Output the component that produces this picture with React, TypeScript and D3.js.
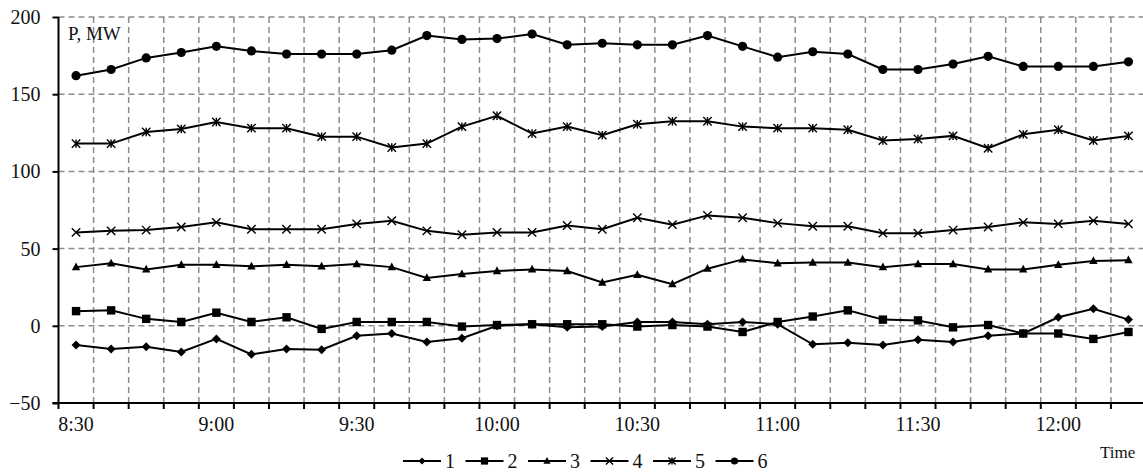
import { useRef, useEffect } from 'react';
import * as d3 from 'd3';

// 31 samples, every 7.5 minutes from 8:30 to 12:15
const times = [
  '8:30', '8:37:30', '8:45', '8:52:30', '9:00', '9:07:30', '9:15', '9:22:30',
  '9:30', '9:37:30', '9:45', '9:52:30', '10:00', '10:07:30', '10:15', '10:22:30',
  '10:30', '10:37:30', '10:45', '10:52:30', '11:00', '11:07:30', '11:15', '11:22:30',
  '11:30', '11:37:30', '11:45', '11:52:30', '12:00', '12:07:30', '12:15',
];
const tickLabels = ['8:30', '9:00', '9:30', '10:00', '10:30', '11:00', '11:30', '12:00'];
const yTicks = [-50, 0, 50, 100, 150, 200];

const seriesNames = ['1', '2', '3', '4', '5', '6'];
const s1 = [-12.5, -15, -13.5, -17, -8.5, -18.5, -15, -15.5, -6.5, -5, -10.5, -8, 0, 1, -1, -0.5, 2.5, 2.5, 1, 2.5, 1, -12, -11, -12.5, -9, -10.5, -6.5, -5, 5.5, 11, 4];
const s2 = [9.5, 10, 4.5, 2.5, 8.5, 2.5, 5.5, -2, 2.5, 2.5, 2.5, -0.5, 0.5, 1, 1, 1, -0.5, 0.5, -0.5, -4, 2.5, 6, 10, 4, 3.5, -1, 0.5, -5, -5, -8.5, -4];
const s3 = [38, 40.5, 36.5, 39.5, 39.5, 38.5, 39.5, 38.5, 40, 38, 31, 33.5, 35.5, 36.5, 35.5, 28, 33, 27, 37, 43, 40.5, 41, 41, 38, 40, 40, 36.5, 36.5, 39.5, 42, 42.5];
const s4 = [60.5, 61.5, 62, 64, 67, 62.5, 62.5, 62.5, 66, 68, 61.5, 59, 60.5, 60.5, 65, 62.5, 70, 65.5, 71.5, 70, 66.5, 64.5, 64.5, 60, 60, 62, 64, 67, 66, 68, 66];
const s5 = [118, 118, 125.5, 127.5, 132, 128, 128, 122.5, 122.5, 115.5, 118, 129, 136, 124.5, 129, 123.5, 130.5, 132.5, 132.5, 129, 128, 128, 127, 120, 121, 123, 115, 124, 127, 120, 123];
const s6 = [162, 166, 173.5, 177, 181, 178, 176, 176, 176, 178.5, 188, 185.5, 186, 189, 182, 183, 182, 182, 188, 181, 174, 177.5, 176, 166, 166, 169.5, 174.5, 168, 168, 168, 171];
const seriesValues = [s1, s2, s3, s4, s5, s6];
const markerKinds = ['diamond', 'square', 'triangle', 'x', 'star', 'circle'];

const font = "'Liberation Serif', 'DejaVu Serif', serif";

function markerPath(kind: string, h: number) {
  switch (kind) {
    case 'diamond':
      return `M0,${-h}L${h},0L0,${h}L${-h},0Z`;
    case 'square':
      return `M${-h},${-h}H${h}V${h}H${-h}Z`;
    case 'triangle':
      return `M0,${-h * 1.1}L${h},${h * 0.75}L${-h},${h * 0.75}Z`;
    case 'x':
      return `M${-h},${-h}L${h},${h}M${-h},${h}L${h},${-h}`;
    case 'star':
      return `M${-h},${-h}L${h},${h}M${-h},${h}L${h},${-h}M0,${-h}L0,${h}`;
    default:
      return d3.arc()({ innerRadius: 0, outerRadius: h, startAngle: 0, endAngle: 2 * Math.PI }) as string;
  }
}

function Marker({ kind, x, y, h }: { kind: string; x: number; y: number; h: number }) {
  const stroked = kind === 'x' || kind === 'star';
  return (
    <path
      d={markerPath(kind, h)}
      transform={`translate(${x},${y})`}
      fill={stroked ? 'none' : '#000'}
      stroke={stroked ? '#000' : 'none'}
      strokeWidth={stroked ? 1.4 : 0}
    />
  );
}

export default function App() {
  const gx = useRef<SVGGElement>(null),
    gy = useRef<SVGGElement>(null);

  const width = 1143,
    height = 472,
    marginLeft = 58.5,
    plotTop = 17,
    plotBottom = 403,
    plotRight = 1146;

  const x = d3.scaleBand().domain(times).range([marginLeft, plotRight]);
  const cx = (t: string) => (x(t) as number) + x.bandwidth() / 2;

  const y = d3.scaleLinear().domain([-50, 200]).range([plotBottom, plotTop]);

  const line = d3
    .line<number>()
    .x((_, i) => cx(times[i]))
    .y((d) => y(d));

  const legendX = d3.scaleBand().domain(seriesNames).range([403, 778]);

  useEffect(() => {
    const ax = d3.select(gx.current!);
    ax.call(
      d3.axisBottom(x).tickValues(tickLabels).tickSize(0).tickPadding(14).tickSizeOuter(0)
    );
    ax.attr('font-family', null).attr('font-size', null);
    ax.select('.domain').remove();
    ax.selectAll('text').style('font-family', font).style('font-size', '20px').attr('fill', '#111');

    const ay = d3.select(gy.current!);
    ay.call(d3.axisLeft(y).tickValues(yTicks).tickSize(6).tickPadding(12).tickSizeOuter(0));
    ay.attr('font-family', null).attr('font-size', null);
    ay.select('.domain').remove();
    ay.selectAll('line').attr('stroke-width', 2);
    ay.selectAll('text').style('font-family', font).style('font-size', '20px').attr('fill', '#111');
  }, []);

  const textStyle = (size: number) => ({ fontFamily: font, fontSize: `${size}px` });

  return (
    <div style={{ position: 'fixed', left: 0, top: 0 }}>
      <svg width={width} height={height} style={{ display: 'block', background: '#fff' }}>
        {/* horizontal grid */}
        {yTicks
          .filter((v) => v > -50)
          .map((v) => (
            <line
              key={'h' + v}
              x1={marginLeft}
              x2={width}
              y1={y(v)}
              y2={y(v)}
              stroke="#8c8c8c"
              strokeWidth={1.5}
              strokeDasharray="6,4"
            />
          ))}
        {/* vertical grid + x ticks at band boundaries */}
        {times.slice(1).map((t) => (
          <g key={'v' + t}>
            <line
              x1={x(t)}
              x2={x(t)}
              y1={plotTop}
              y2={plotBottom}
              stroke="#8c8c8c"
              strokeWidth={1.5}
              strokeDasharray="6,4"
            />
            <line x1={x(t)} x2={x(t)} y1={plotBottom} y2={plotBottom + 6} stroke="#000" strokeWidth={2} />
          </g>
        ))}

        {/* axes lines */}
        <line x1={marginLeft} x2={marginLeft} y1={plotTop} y2={plotBottom + 6} stroke="#000" strokeWidth={2} />
        <line x1={marginLeft - 6} x2={width} y1={plotBottom} y2={plotBottom} stroke="#000" strokeWidth={2} />
        <g ref={gx} transform={`translate(0,${plotBottom})`} />
        <g ref={gy} transform={`translate(${marginLeft},0)`} />

        {/* series */}
        {seriesValues.map((vals, si) => (
          <g key={'s' + si}>
            <path d={line(vals) as string} fill="none" stroke="#000" strokeWidth={2} />
            {vals.map((v, i) => (
              <Marker
                key={i}
                kind={markerKinds[si]}
                x={cx(times[i])}
                y={y(v)}
                h={markerKinds[si] === 'diamond' ? 4.5 : markerKinds[si] === 'circle' ? 4.6 : 4.2}
              />
            ))}
          </g>
        ))}

        <text x={68} y={40} style={textStyle(19)} fill="#111">
          P, MW
        </text>
        <text x={1100} y={458} style={textStyle(17)} fill="#111">
          Time
        </text>

        {/* legend */}
        {seriesNames.map((name, si) => {
          const lx = legendX(name) as number;
          return (
            <g key={'l' + name}>
              <line x1={lx} x2={lx + 38} y1={461} y2={461} stroke="#000" strokeWidth={2} />
              <Marker kind={markerKinds[si]} x={lx + 19} y={461} h={3.6} />
              <text x={lx + 42} y={468} style={textStyle(20)} fill="#111">
                {name}
              </text>
            </g>
          );
        })}
      </svg>
    </div>
  );
}
